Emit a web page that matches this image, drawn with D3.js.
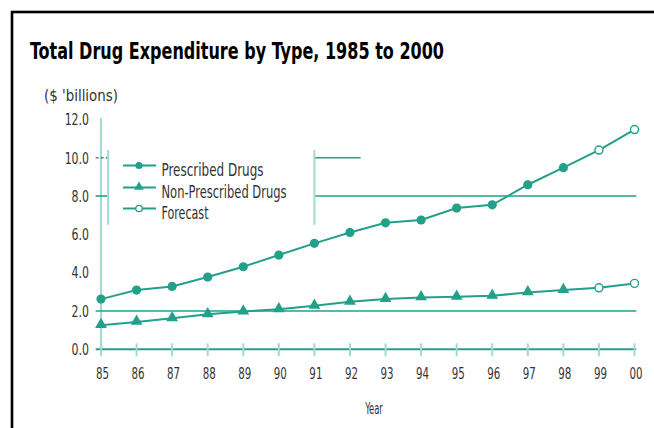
<!DOCTYPE html>
<html><head><meta charset="utf-8">
<script src="https://cdn.jsdelivr.net/npm/d3@7"></script>
<style>
html,body{margin:0;padding:0;background:#fff;}
svg{display:block;}
text{font-family:"Liberation Sans Narrow","DejaVu Sans Condensed","Roboto Condensed",sans-serif;}
</style></head>
<body>
<svg id="chart" width="654" height="428"></svg>
<script>
// ---- data ----
const years = [1985,1986,1987,1988,1989,1990,1991,1992,1993,1994,1995,1996,1997,1998,1999,2000];
const yearLabels = ["85","86","87","88","89","90","91","92","93","94","95","96","97","98","99","00"];
const prescribed = [2.62,3.09,3.28,3.77,4.31,4.92,5.53,6.10,6.60,6.75,7.37,7.54,8.59,9.48,10.40,11.47];
const nonPrescribed = [1.26,1.43,1.62,1.83,1.97,2.09,2.27,2.48,2.62,2.71,2.74,2.79,2.97,3.09,3.21,3.44];
const forecastStart = 1999;
const yTicks = [0,2,4,6,8,10,12];
const yTickLabels = ["0.0","2.0","4.0","6.0","8.0","10.0","12.0"];
const legendLabels = ["Prescribed Drugs","Non-Prescribed Drugs","Forecast"];
const titleText = "Total Drug Expenditure by Type, 1985 to 2000";
const unitText = "($ 'billions)";
const xTitle = "Year";
// reference lines as drawn (value, from-year, to-year)
const gridValues = [2, 8, 10];
const gridFrom = [1984.85, 1991, 1991];
const gridTo = [2000.05, 2000.05, 1992.3];

const TEAL = "#22a08a", LIGHT = "#a3dad0";
const svg = d3.select("#chart");
const x = d3.scaleLinear().domain([1985,2000]).range([101,634.5]);
const y = d3.scaleLinear().domain([0,12]).range([349.3,119.4]);

// squeeze text horizontally to mimic the condensed face of the original
function condense(sel, f) {
  sel.each(function(){
    const len = this.getComputedTextLength();
    d3.select(this).attr("textLength", len*f).attr("lengthAdjust","spacingAndGlyphs");
  });
}

// frame
svg.append("rect").attr("x",12).attr("y",12).attr("width",660).attr("height",440)
  .attr("fill","none").attr("stroke","#000").attr("stroke-width",2.6);

// title
svg.append("text").attr("x",30).attr("y",59).text(titleText)
  .attr("font-size",23).attr("font-weight","bold").attr("fill","#000")
  .attr("textLength",414).attr("lengthAdjust","spacingAndGlyphs");
svg.append("text").attr("x",44).attr("y",101).text(unitText)
  .attr("font-size",15).attr("fill","#333")
  .attr("textLength",74).attr("lengthAdjust","spacingAndGlyphs");

// y axis line
svg.append("line").attr("x1",x(1985)).attr("x2",x(1985)).attr("y1",118).attr("y2",355)
  .attr("stroke",LIGHT).attr("stroke-width",2);

// gridlines
gridValues.forEach((v,i)=>{
  svg.append("line").attr("x1",x(gridFrom[i])).attr("x2",x(gridTo[i]))
    .attr("y1",y(v)).attr("y2",y(v)).attr("stroke",TEAL).attr("stroke-width",1.6);
  if (gridFrom[i] > 1985) {
    svg.append("line").attr("x1",x(1984.85)).attr("x2",x(1985.2))
      .attr("y1",y(v)).attr("y2",y(v)).attr("stroke",TEAL).attr("stroke-width",1.6)
      .attr("stroke-dasharray", v===10 ? "3,2" : null);
  }
});
// legend box edges
[1985.2, 1991].forEach(yr=>{
  svg.append("line").attr("x1",x(yr)).attr("x2",x(yr)).attr("y1",y(10.4)).attr("y2",y(6.5))
    .attr("stroke",LIGHT).attr("stroke-width",2);
});

// x axis
const xAxis = svg.append("g").attr("transform",`translate(0,${y(0)})`)
  .call(d3.axisBottom(x).tickValues(years).tickFormat((d,i)=>yearLabels[i]).tickSize(0).tickPadding(0));
xAxis.select(".domain").remove();
xAxis.selectAll(".tick text").remove();
svg.append("line").attr("x1",x(1984.85)).attr("x2",x(2000.05)).attr("y1",y(0)).attr("y2",y(0))
  .attr("stroke",TEAL).attr("stroke-width",2);
years.forEach(yr=>{
  svg.append("line").attr("x1",x(yr)).attr("x2",x(yr)).attr("y1",y(0)-6).attr("y2",y(0)+7)
    .attr("stroke",LIGHT).attr("stroke-width",2);
});
const xl = svg.append("g").selectAll("text").data(years).join("text")
  .attr("x",d=>x(d)+1.5).attr("y",379).attr("text-anchor","middle")
  .attr("font-size",15).attr("fill","#333").text((d,i)=>yearLabels[i]);
condense(xl, 0.76);
const xt = svg.append("text").attr("x",374).attr("y",414).attr("text-anchor","middle")
  .attr("font-size",15).attr("fill","#333").text(xTitle);
condense(xt, 0.62);

// y tick labels
const yl = svg.append("g").selectAll("text").data(yTicks).join("text")
  .attr("x",89).attr("y",d=>y(d)+5.8).attr("text-anchor","end")
  .attr("font-size",16).attr("fill","#333").text((d,i)=>yTickLabels[i]);
condense(yl, 0.76);

// series
const line = d3.line().x(d=>x(d[0])).y(d=>y(d[1]));
const series = [
  {vals: prescribed, sym: "circle"},
  {vals: nonPrescribed, sym: "triangle"}
];
series.forEach(s=>{
  const pts = years.map((yr,i)=>[yr, s.vals[i]]);
  svg.append("path").attr("d",line(pts)).attr("fill","none")
    .attr("stroke",TEAL).attr("stroke-width",2);
  pts.forEach(p=>{
    if (p[0] >= forecastStart) {
      svg.append("circle").attr("cx",x(p[0])).attr("cy",y(p[1])).attr("r",4)
        .attr("fill","#fff").attr("stroke",TEAL).attr("stroke-width",1.4);
    } else if (s.sym==="circle") {
      svg.append("circle").attr("cx",x(p[0])).attr("cy",y(p[1])).attr("r",4.6).attr("fill",TEAL);
    } else {
      svg.append("path").attr("d",d3.symbol(d3.symbolTriangle,60)())
        .attr("transform",`translate(${x(p[0])},${y(p[1])-0.5})`).attr("fill",TEAL);
    }
  });
});

// legend
const legRows = [165.5, 187.5, 208.5];
const legLen = [102, 125, 47];
legendLabels.forEach((lab,i)=>{
  const ly = legRows[i];
  svg.append("line").attr("x1",123).attr("x2",156).attr("y1",ly).attr("y2",ly)
    .attr("stroke",TEAL).attr("stroke-width",2);
  if (i===0) svg.append("circle").attr("cx",139).attr("cy",ly).attr("r",3.6).attr("fill",TEAL);
  if (i===1) svg.append("path").attr("d",d3.symbol(d3.symbolTriangle,40)())
    .attr("transform",`translate(139,${ly-0.5})`).attr("fill",TEAL);
  if (i===2) svg.append("circle").attr("cx",139).attr("cy",ly).attr("r",3.2)
    .attr("fill","#fff").attr("stroke",TEAL).attr("stroke-width",1.3);
  svg.append("text").attr("x",161.5).attr("y",ly+10.5).text(lab)
    .attr("font-size",17).attr("fill","#333")
    .attr("textLength",legLen[i]).attr("lengthAdjust","spacingAndGlyphs");
});
</script>
</body></html>
